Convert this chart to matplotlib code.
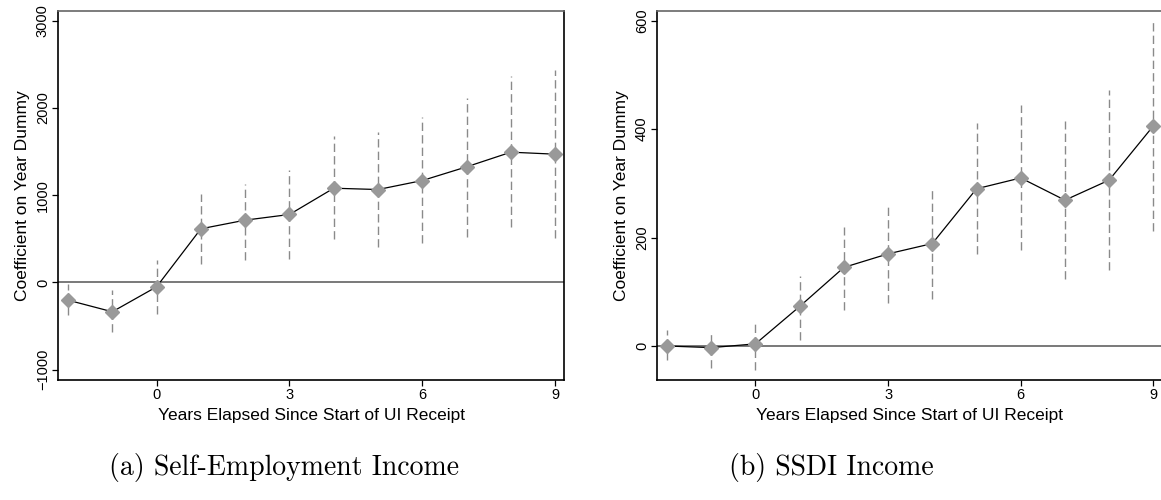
import matplotlib.pyplot as plt

# years relative to start of UI receipt
years = [-2, -1, 0, 1, 2, 3, 4, 5, 6, 7, 8, 9]

# (a) self-employment income
se_coef = [-203, -336, -50, 615, 714, 779, 1080, 1065, 1168, 1325, 1493, 1470]
se_hi = [-23, -92, 263, 1016, 1134, 1290, 1676, 1726, 1894, 2116, 2371, 2436]
se_lo = [-378, -570, -357, 206, 255, 271, 493, 412, 447, 523, 630, 508]

# (b) SSDI income
ssdi_coef = [0, -3, 4, 73, 145, 170, 189, 290, 310, 269, 306, 406]
ssdi_hi = [29, 27, 47, 129, 220, 262, 292, 412, 444, 415, 473, 600]
ssdi_lo = [-26, -41, -45, 12, 67, 80, 87, 169, 177, 124, 140, 212]

x_ticks = [0, 3, 6, 9]
se_yticks = [-1000, 0, 1000, 2000, 3000]
ssdi_yticks = [0, 200, 400, 600]

plt.rcParams['font.family'] = ['Liberation Sans', 'DejaVu Sans']


def draw_panel(ax, coef, lo, hi, yticks, ylim):
    ax.axhline(0, color='#555555', lw=1.1, zorder=1)
    ax.vlines(years, lo, hi, colors='#8a8a8a', lw=1.0,
              linestyles=(0, (6, 3)), zorder=2)
    ax.plot(years, coef, color='black', lw=0.9, zorder=3)
    ax.plot(years, coef, 'D', color='#999999', ms=7.5, mec='#999999', zorder=4)

    ax.set_xlim(-2.22, 9.21)
    ax.set_ylim(*ylim)
    ax.set_xticks(x_ticks)
    ax.set_yticks(yticks)
    ax.tick_params(axis='both', direction='out', length=4, width=0.9,
                   labelsize=10.5, pad=2)
    for lab in ax.get_yticklabels():
        lab.set_rotation(90)
        lab.set_va('center')

    for side in ['left', 'bottom', 'right']:
        ax.spines[side].set_color('black')
        ax.spines[side].set_linewidth(1.2)
    ax.spines['top'].set_color('#666666')
    ax.spines['top'].set_linewidth(1.2)

    ax.set_xlabel('Years Elapsed Since Start of UI Receipt', fontsize=12.5, labelpad=4)
    ax.set_ylabel('Coefficient on Year Dummy', fontsize=12.5, labelpad=4)


fig = plt.figure(figsize=(11.61, 5.0), dpi=100)
ax1 = fig.add_axes([0.0502, 0.24, 0.436, 0.738])
ax2 = fig.add_axes([0.5662, 0.24, 0.4352, 0.738])

draw_panel(ax1, se_coef, se_lo, se_hi, se_yticks, (-1118, 3111))
draw_panel(ax2, ssdi_coef, ssdi_lo, ssdi_hi, ssdi_yticks, (-62.7, 617.9))

fig.text(0.245, 0.066, '(a) Self-Employment Income', ha='center', va='center',
         fontsize=20, family='cmr10')
fig.text(0.716, 0.066, '(b) SSDI Income', ha='center', va='center',
         fontsize=20, family='cmr10')

plt.savefig('out.png', dpi=100)
plt.close()
